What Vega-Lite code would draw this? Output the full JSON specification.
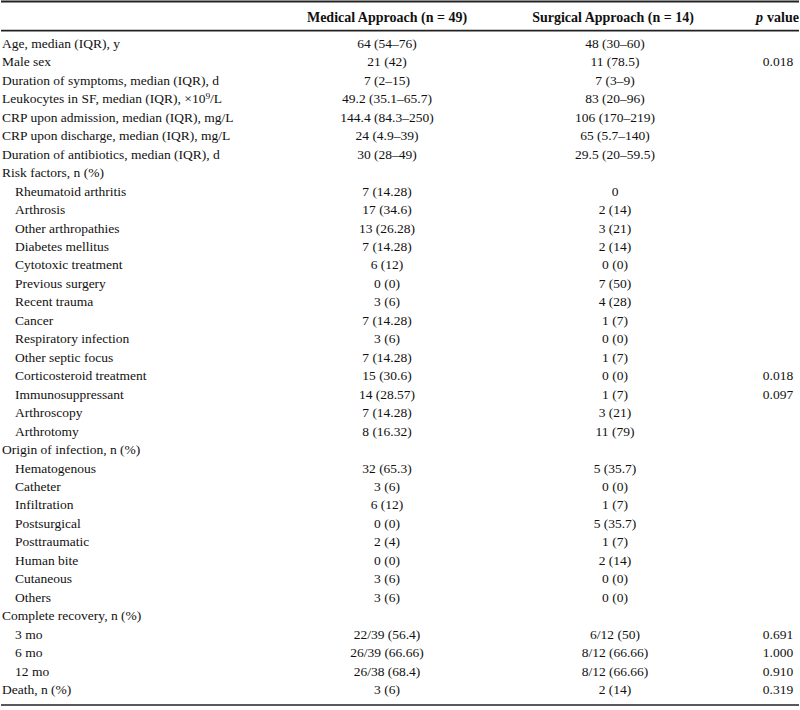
{
  "$schema": "https://vega.github.io/schema/vega-lite/v6.json",
  "width": 800,
  "height": 710,
  "autosize": {"type": "fit", "contains": "padding"},
  "padding": 0,
  "background": "white",
  "config": {"view": {"stroke": null}, "text": {"font": "Liberation Serif", "fontSize": 13.5, "color": "#111"}},
  "datasets": {
    "rows": [
      {"row": 1, "label": "Age, median (IQR), y", "level": "main", "Medical": "64 (54–76)", "Surgical": "48 (30–60)", "p": ""},
      {"row": 2, "label": "Male sex", "level": "main", "Medical": "21 (42)", "Surgical": "11 (78.5)", "p": "0.018"},
      {"row": 3, "label": "Duration of symptoms, median (IQR), d", "level": "main", "Medical": "7 (2–15)", "Surgical": "7 (3–9)", "p": ""},
      {"row": 4, "label": "Leukocytes in SF, median (IQR), ×10⁹/L", "level": "main", "Medical": "49.2 (35.1–65.7)", "Surgical": "83 (20–96)", "p": ""},
      {"row": 5, "label": "CRP upon admission, median (IQR), mg/L", "level": "main", "Medical": "144.4 (84.3–250)", "Surgical": "106 (170–219)", "p": ""},
      {"row": 6, "label": "CRP upon discharge, median (IQR), mg/L", "level": "main", "Medical": "24 (4.9–39)", "Surgical": "65 (5.7–140)", "p": ""},
      {"row": 7, "label": "Duration of antibiotics, median (IQR), d", "level": "main", "Medical": "30 (28–49)", "Surgical": "29.5 (20–59.5)", "p": ""},
      {"row": 8, "label": "Risk factors, n (%)", "level": "main", "Medical": "", "Surgical": "", "p": ""},
      {"row": 9, "label": "Rheumatoid arthritis", "level": "sub", "Medical": "7 (14.28)", "Surgical": "0", "p": ""},
      {"row": 10, "label": "Arthrosis", "level": "sub", "Medical": "17 (34.6)", "Surgical": "2 (14)", "p": ""},
      {"row": 11, "label": "Other arthropathies", "level": "sub", "Medical": "13 (26.28)", "Surgical": "3 (21)", "p": ""},
      {"row": 12, "label": "Diabetes mellitus", "level": "sub", "Medical": "7 (14.28)", "Surgical": "2 (14)", "p": ""},
      {"row": 13, "label": "Cytotoxic treatment", "level": "sub", "Medical": "6 (12)", "Surgical": "0 (0)", "p": ""},
      {"row": 14, "label": "Previous surgery", "level": "sub", "Medical": "0 (0)", "Surgical": "7 (50)", "p": ""},
      {"row": 15, "label": "Recent trauma", "level": "sub", "Medical": "3 (6)", "Surgical": "4 (28)", "p": ""},
      {"row": 16, "label": "Cancer", "level": "sub", "Medical": "7 (14.28)", "Surgical": "1 (7)", "p": ""},
      {"row": 17, "label": "Respiratory infection", "level": "sub", "Medical": "3 (6)", "Surgical": "0 (0)", "p": ""},
      {"row": 18, "label": "Other septic focus", "level": "sub", "Medical": "7 (14.28)", "Surgical": "1 (7)", "p": ""},
      {"row": 19, "label": "Corticosteroid treatment", "level": "sub", "Medical": "15 (30.6)", "Surgical": "0 (0)", "p": "0.018"},
      {"row": 20, "label": "Immunosuppressant", "level": "sub", "Medical": "14 (28.57)", "Surgical": "1 (7)", "p": "0.097"},
      {"row": 21, "label": "Arthroscopy", "level": "sub", "Medical": "7 (14.28)", "Surgical": "3 (21)", "p": ""},
      {"row": 22, "label": "Arthrotomy", "level": "sub", "Medical": "8 (16.32)", "Surgical": "11 (79)", "p": ""},
      {"row": 23, "label": "Origin of infection, n (%)", "level": "main", "Medical": "", "Surgical": "", "p": ""},
      {"row": 24, "label": "Hematogenous", "level": "sub", "Medical": "32 (65.3)", "Surgical": "5 (35.7)", "p": ""},
      {"row": 25, "label": "Catheter", "level": "sub", "Medical": "3 (6)", "Surgical": "0 (0)", "p": ""},
      {"row": 26, "label": "Infiltration", "level": "sub", "Medical": "6 (12)", "Surgical": "1 (7)", "p": ""},
      {"row": 27, "label": "Postsurgical", "level": "sub", "Medical": "0 (0)", "Surgical": "5 (35.7)", "p": ""},
      {"row": 28, "label": "Posttraumatic", "level": "sub", "Medical": "2 (4)", "Surgical": "1 (7)", "p": ""},
      {"row": 29, "label": "Human bite", "level": "sub", "Medical": "0 (0)", "Surgical": "2 (14)", "p": ""},
      {"row": 30, "label": "Cutaneous", "level": "sub", "Medical": "3 (6)", "Surgical": "0 (0)", "p": ""},
      {"row": 31, "label": "Others", "level": "sub", "Medical": "3 (6)", "Surgical": "0 (0)", "p": ""},
      {"row": 32, "label": "Complete recovery, n (%)", "level": "main", "Medical": "", "Surgical": "", "p": ""},
      {"row": 33, "label": "3 mo", "level": "sub", "Medical": "22/39 (56.4)", "Surgical": "6/12 (50)", "p": "0.691"},
      {"row": 34, "label": "6 mo", "level": "sub", "Medical": "26/39 (66.66)", "Surgical": "8/12 (66.66)", "p": "1.000"},
      {"row": 35, "label": "12 mo", "level": "sub", "Medical": "26/38 (68.4)", "Surgical": "8/12 (66.66)", "p": "0.910"},
      {"row": 36, "label": "Death, n (%)", "level": "main", "Medical": "3 (6)", "Surgical": "2 (14)", "p": "0.319"}
    ],
    "header": [
      {"row": 0, "col": "Medical", "text": "Medical Approach (n = 49)"},
      {"row": 0, "col": "Surgical", "text": "Surgical Approach (n = 14)"},
      {"row": 0, "col": "pItalic", "text": "p"},
      {"row": 0, "col": "pRest", "text": "value"}
    ],
    "lines": [
      {"line": "top", "pos": -1.3},
      {"line": "header", "pos": 0.27},
      {"line": "bottom", "pos": 36.81}
    ]
  },
  "encoding": {
    "y": {"field": "row", "type": "quantitative", "scale": {"domain": [-1.384, 37.084], "reverse": true, "nice": false, "zero": false}, "axis": null}
  },
  "layer": [
    {
      "data": {"name": "rows"},
      "mark": {"type": "text", "align": "left", "baseline": "middle"},
      "encoding": {
        "x": {"field": "level", "type": "nominal", "scale": {"type": "point", "domain": ["main", "sub"], "range": [1, 14], "padding": 0}, "axis": null},
        "text": {"field": "label"}
      }
    },
    {
      "data": {"name": "rows"},
      "transform": [{"fold": ["Medical", "Surgical"], "as": ["col", "value"]}],
      "mark": {"type": "text", "align": "center", "baseline": "middle"},
      "encoding": {
        "x": {"field": "col", "type": "nominal", "scale": {"type": "point", "domain": ["Medical", "Surgical"], "range": [386, 614], "padding": 0}, "axis": null},
        "text": {"field": "value"}
      }
    },
    {
      "data": {"name": "rows"},
      "transform": [{"fold": ["p"], "as": ["col", "value"]}],
      "mark": {"type": "text", "align": "center", "baseline": "middle"},
      "encoding": {
        "x": {"field": "col", "type": "nominal", "scale": {"type": "point", "domain": ["p"], "range": [777, 777], "padding": 0}, "axis": null},
        "text": {"field": "value"}
      }
    },
    {
      "data": {"name": "header"},
      "transform": [{"filter": "datum.col == 'Medical' || datum.col == 'Surgical'"}],
      "mark": {"type": "text", "align": "center", "baseline": "middle", "fontWeight": "bold", "fontSize": 14, "dy": -7.5},
      "encoding": {
        "x": {"field": "col", "type": "nominal", "scale": {"type": "point", "domain": ["Medical", "Surgical"], "range": [386, 612], "padding": 0}, "axis": null},
        "text": {"field": "text"}
      }
    },
    {
      "data": {"name": "header"},
      "transform": [{"filter": "datum.col == 'pItalic'"}],
      "mark": {"type": "text", "align": "left", "baseline": "middle", "fontWeight": "bold", "fontStyle": "italic", "fontSize": 14, "dy": -7.5},
      "encoding": {
        "x": {"field": "col", "type": "nominal", "scale": {"type": "point", "domain": ["pItalic"], "range": [755, 755], "padding": 0}, "axis": null},
        "text": {"field": "text"}
      }
    },
    {
      "data": {"name": "header"},
      "transform": [{"filter": "datum.col == 'pRest'"}],
      "mark": {"type": "text", "align": "left", "baseline": "middle", "fontWeight": "bold", "fontSize": 14, "dy": -7.5},
      "encoding": {
        "x": {"field": "col", "type": "nominal", "scale": {"type": "point", "domain": ["pRest"], "range": [766, 766], "padding": 0}, "axis": null},
        "text": {"field": "text"}
      }
    },
    {
      "data": {"name": "lines"},
      "mark": {"type": "rule", "color": "#222"},
      "encoding": {
        "y": {"field": "pos", "type": "quantitative"},
        "strokeWidth": {"field": "line", "type": "nominal", "scale": {"domain": ["top", "header", "bottom"], "range": [2, 1.5, 2]}, "legend": null}
      }
    }
  ],
  "resolve": {"scale": {"x": "independent"}}
}
